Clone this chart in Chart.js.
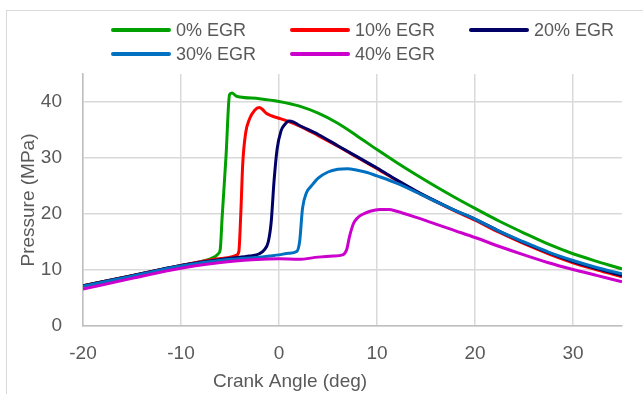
<!DOCTYPE html>
<html>
<head>
<meta charset="utf-8">
<title>Pressure vs Crank Angle</title>
<script src="https://cdn.jsdelivr.net/npm/chart.js@4.4.1/dist/chart.umd.min.js"></script>
<style>
  html, body { margin: 0; padding: 0; background: #fff; }
  #wrap { position: relative; width: 643px; height: 394px; overflow: hidden; }
  #frame { position: absolute; left: 6px; top: 10px; width: 700px; height: 500px;
           border-left: 1px solid #d9d9d9; border-top: 1px solid #d9d9d9; }
  canvas { position: absolute; left: 0; top: 0; }
</style>
</head>
<body>
<div id="wrap">
  <div id="frame"></div>
  <canvas id="pressureChart" width="643" height="394"></canvas>
</div>
<script>
// Series labels and colours
const seriesNames = ['0% EGR', '10% EGR', '20% EGR', '30% EGR', '40% EGR'];
const seriesColors = ['#00a000', '#ff0000', '#000066', '#0070c0', '#cc00cc'];

// 0% EGR
const egr0Angle = [-20, -15, -10, -8, -7, -6.5, -6.2, -6.0, -5.8, -5.4, -5.05, -4.8, -4.4, -4.0, -2, 0, 2, 4, 6, 8, 10, 12, 14, 16, 18, 20, 22.5, 25, 27.5, 30, 32.5, 35];
const egr0Pressure = [7.2, 9.0, 10.8, 11.5, 12.0, 12.4, 12.9, 13.6, 19.5, 30.5, 41.3, 41.6, 41.1, 40.9, 40.6, 40.1, 39.3, 38.0, 36.2, 33.9, 31.5, 29.2, 27.0, 24.9, 22.9, 21.0, 18.7, 16.6, 14.6, 12.9, 11.5, 10.2];

// 10% EGR
const egr10Angle = [-20, -15, -10, -7, -5, -4.4, -4.1, -3.9, -3.7, -3.4, -3.0, -2.5, -2.0, -1.7, -1.3, -0.7, 0, 1, 2, 4, 6, 8, 10, 12, 14, 16, 18, 20, 22.5, 25, 27.5, 30, 32.5, 35];
const egr10Pressure = [7.2, 9.0, 10.8, 11.8, 12.3, 12.6, 13.3, 20.0, 29.0, 34.5, 37.0, 38.5, 39.0, 38.7, 38.0, 37.5, 37.1, 36.5, 35.8, 34.0, 32.1, 30.1, 28.1, 26.0, 24.0, 22.2, 20.5, 18.9, 16.7, 14.7, 12.9, 11.3, 10.0, 8.8];

// 20% EGR
const egr20Angle = [-20, -15, -10, -5, -3, -2, -1.5, -1.1, -0.8, -0.5, -0.2, 0.2, 0.6, 1.0, 1.5, 2, 4, 6, 8, 10, 12, 14, 16, 18, 20, 22.5, 25, 27.5, 30, 32.5, 35];
const egr20Pressure = [7.2, 9.0, 10.8, 12.1, 12.5, 12.9, 13.6, 15.0, 18.5, 26.0, 31.5, 34.8, 36.0, 36.6, 36.4, 35.9, 34.2, 32.2, 30.2, 28.2, 26.1, 24.1, 22.3, 20.6, 19.1, 16.9, 14.9, 13.1, 11.5, 10.2, 9.0];

// 30% EGR
const egr30Angle = [-20, -15, -10, -5, -2, -1, 0, 1, 1.8, 2.1, 2.4, 2.8, 3.3, 4.0, 5, 6, 7, 8, 9, 10, 11, 12, 14, 16, 18, 20, 22.5, 25, 27.5, 30, 32.5, 35];
const egr30Pressure = [7.1, 8.9, 10.7, 11.9, 12.3, 12.5, 12.7, 13.0, 13.3, 15.0, 21.0, 23.8, 25.0, 26.4, 27.5, 28.0, 28.1, 27.8, 27.4, 26.8, 26.2, 25.5, 23.9, 22.2, 20.6, 19.1, 16.9, 15.0, 13.2, 11.7, 10.4, 9.3];

// 40% EGR
const egr40Angle = [-20, -15, -10, -5, 0, 2, 4, 5.5, 6.5, 6.9, 7.2, 7.6, 8.0, 8.6, 9.3, 10.3, 11.2, 12, 14, 16, 18, 20, 22.5, 25, 27.5, 30, 32.5, 35];
const egr40Pressure = [6.6, 8.5, 10.3, 11.5, 12.0, 11.9, 12.3, 12.5, 12.7, 13.6, 16.0, 18.3, 19.3, 20.0, 20.5, 20.8, 20.8, 20.5, 19.4, 18.2, 17.0, 15.8, 14.2, 12.7, 11.3, 10.1, 9.0, 7.9];

// Axis ranges and ticks
const xMin = -20, xMax = 35, xStep = 10, xLastTick = 30;
const yMin = 0, yMax = 45, yStep = 10, yLastTick = 40;
const xTitle = 'Crank Angle (deg)';
const yTitle = 'Pressure (MPa)';

const allAngles = [egr0Angle, egr10Angle, egr20Angle, egr30Angle, egr40Angle];
const allPressures = [egr0Pressure, egr10Pressure, egr20Pressure, egr30Pressure, egr40Pressure];

const FONT = "'Liberation Sans', Arial, sans-serif";
const TEXT_COLOR = '#595959';

// Legend laid out in columns like Excel does
const legendCols = [113, 292, 471];
const legendRows = [30, 54];

const columnLegend = {
    id: 'columnLegend',
    afterDraw(chart) {
        const ctx = chart.ctx;
        ctx.save();
        ctx.font = '18px ' + FONT;
        ctx.textBaseline = 'middle';
        ctx.textAlign = 'left';
        chart.data.datasets.forEach((ds, i) => {
            const x = legendCols[i % 3];
            const y = legendRows[Math.floor(i / 3)];
            ctx.strokeStyle = ds.borderColor;
            ctx.lineWidth = 4;
            ctx.lineCap = 'round';
            ctx.beginPath();
            ctx.moveTo(x, y);
            ctx.lineTo(x + 56, y);
            ctx.stroke();
            ctx.fillStyle = TEXT_COLOR;
            ctx.fillText(ds.label, x + 63, y + 1);
        });
        ctx.restore();
    }
};

// x axis title sits left of the plot centre in the original
const xAxisTitle = {
    id: 'xAxisTitle',
    afterDraw(chart) {
        const ctx = chart.ctx;
        ctx.save();
        ctx.font = '19px ' + FONT;
        ctx.fillStyle = TEXT_COLOR;
        ctx.textAlign = 'center';
        ctx.textBaseline = 'middle';
        ctx.fillText(xTitle, 290, 382);
        ctx.restore();
    }
};

const datasets = seriesNames.map((name, i) => ({
    label: name,
    data: allAngles[i].map((a, j) => ({ x: a, y: allPressures[i][j] })),
    borderColor: seriesColors[i],
    backgroundColor: seriesColors[i],
    borderWidth: 3,
    pointRadius: 0,
    cubicInterpolationMode: 'monotone',
    fill: false,
    order: seriesNames.length - i
}));

new Chart(document.getElementById('pressureChart'), {
    type: 'line',
    data: { datasets: datasets },
    options: {
        responsive: false,
        animation: false,
        layout: { padding: { top: 74, right: 21, bottom: 0, left: 0 } },
        plugins: {
            legend: { display: false },
            tooltip: { enabled: false }
        },
        scales: {
            x: {
                type: 'linear',
                min: xMin,
                max: xMax,
                ticks: {
                    stepSize: xStep,
                    color: TEXT_COLOR,
                    font: { family: FONT, size: 19 },
                    padding: 16,
                    maxRotation: 0
                },
                grid: { color: '#d9d9d9', lineWidth: 1.5, drawTicks: false },
                border: { color: '#bfbfbf', width: 1.5 },
                afterBuildTicks: axis => { axis.ticks = axis.ticks.filter(t => t.value <= xLastTick); },
                afterFit: s => { s.height = 68; }
            },
            y: {
                min: yMin,
                max: yMax,
                ticks: {
                    stepSize: yStep,
                    color: TEXT_COLOR,
                    font: { family: FONT, size: 19 },
                    padding: 21
                },
                grid: { color: '#d9d9d9', lineWidth: 1.5, drawTicks: false },
                border: { color: '#bfbfbf', width: 1.5 },
                title: {
                    display: true,
                    text: yTitle,
                    color: TEXT_COLOR,
                    font: { family: FONT, size: 19 },
                    padding: { top: 17, bottom: 0 }
                },
                afterBuildTicks: axis => { axis.ticks = axis.ticks.filter(t => t.value <= yLastTick); },
                afterFit: s => { s.width = 83; }
            }
        }
    },
    plugins: [columnLegend, xAxisTitle]
});
</script>
</body>
</html>
